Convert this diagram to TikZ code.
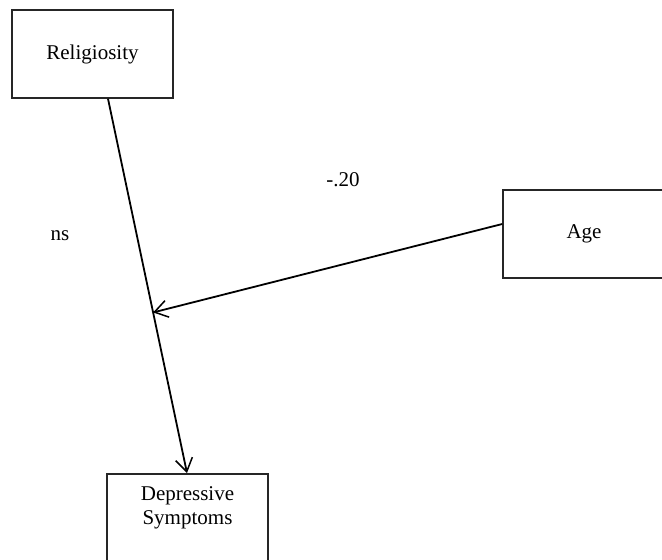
\documentclass[tikz,border=0pt]{standalone}
\usepackage{fontspec}
\setmainfont{Liberation Serif}
\usetikzlibrary{arrows.meta,calc}
\begin{document}
\begin{tikzpicture}[x=1pt,y=-1pt,
  box/.style={draw=black!85,line width=1.5pt,rectangle,inner sep=0pt,font=\fontsize{21}{25}\selectfont},
  lbl/.style={font=\fontsize{21}{25}\selectfont,inner sep=0pt},
  conn/.style={line width=1.8pt,-{Straight Barb[length=13pt,width=17pt,line width=1.5pt]}}]
\useasboundingbox (0,0) rectangle (662,560);
\clip (0,0) rectangle (662,560);
\node[box,minimum width=161pt,minimum height=88pt] (rel) at (92.5,54) {Religiosity};
\node[box,minimum width=162pt,minimum height=88pt] (age) at (584,234) {Age};
\node[box,minimum width=161pt,minimum height=120pt,anchor=north] (dep) at (187.5,473) {};
\node[lbl,align=center,anchor=north] (deptext) at ($(dep.north)+(0,13)$) {Depressive\\[-1pt]Symptoms};
\node[lbl] (ns) at (60,236) {ns};
\node[lbl] (coef) at (343,180) {-.20};
\coordinate (s) at ($(rel.south)+(15.5,0)$);
\coordinate (t) at ($(dep.north)+(-0.5,0)$);
\coordinate (m) at ($(s)!0.571!(t)$);
\coordinate (a) at ($(age.west)+(0,-10)$);
\draw[conn] (s) -- (t);
\draw[conn] (a) -- (m);
\end{tikzpicture}
\end{document}
